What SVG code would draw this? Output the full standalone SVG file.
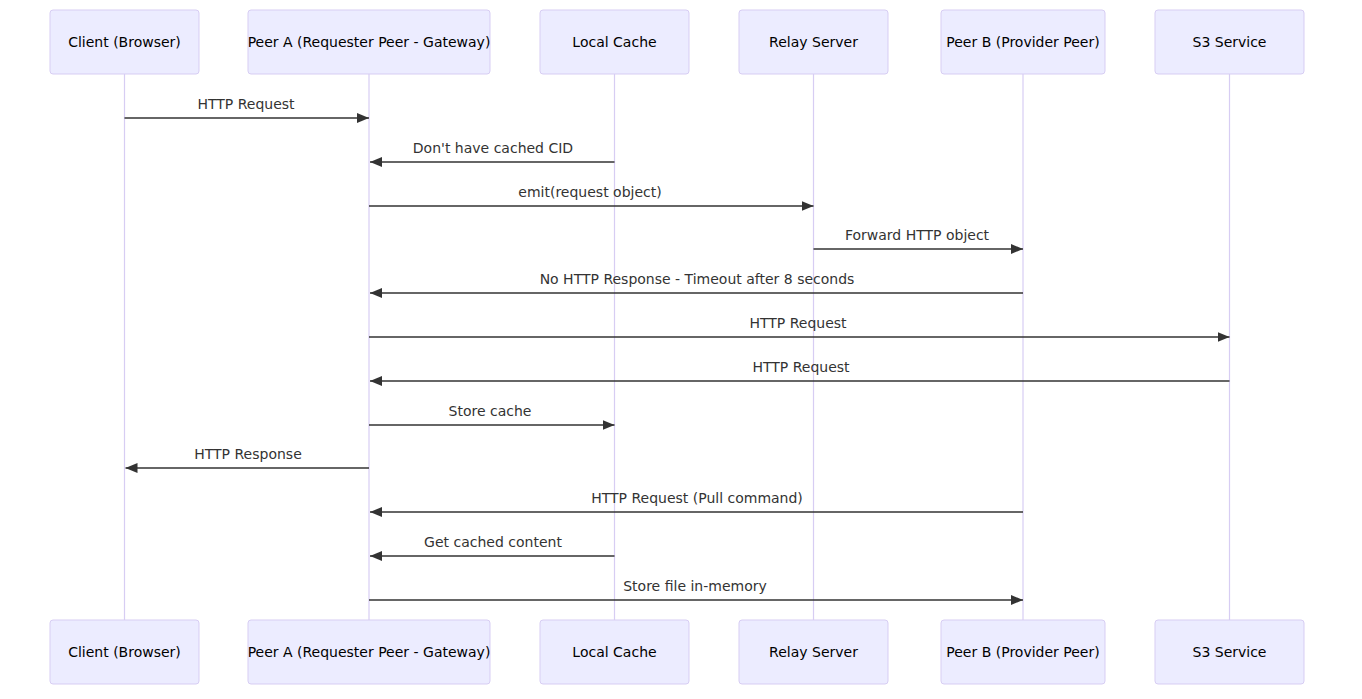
<svg xmlns="http://www.w3.org/2000/svg" width="1362" height="699" viewBox="0 0 1362 699">
<style>
.actor{fill:#ECECFF;stroke:#D7CDF3;stroke-width:1}
.life{stroke:#D7CDF3;stroke-width:1.2}
.atext{font-family:"DejaVu Sans",Verdana,sans-serif;font-size:14px;fill:#000;text-anchor:middle;dominant-baseline:central}
.msg{stroke:#333;stroke-width:1.5;fill:none}
.mtext{font-family:"DejaVu Sans",Verdana,sans-serif;font-size:14px;fill:#333;text-anchor:middle}
</style>
<defs>
<marker id="arrow" viewBox="0 0 12 10" refX="12" refY="5" markerWidth="12" markerHeight="10" markerUnits="userSpaceOnUse" orient="auto">
<path d="M0,0 L12,5 L0,10 z" fill="#333"/>
</marker>
</defs>
<rect width="1362" height="699" fill="#fff"/>
<g id="lifelines">
<line class="life" x1="124.5" y1="74" x2="124.5" y2="620"/>
<line class="life" x1="369" y1="74" x2="369" y2="620"/>
<line class="life" x1="614.5" y1="74" x2="614.5" y2="620"/>
<line class="life" x1="813.5" y1="74" x2="813.5" y2="620"/>
<line class="life" x1="1023" y1="74" x2="1023" y2="620"/>
<line class="life" x1="1229.5" y1="74" x2="1229.5" y2="620"/>
</g>
<g id="client">
<rect class="actor" x="50" y="10" width="149" height="64" rx="3"/>
<text class="atext" x="124.5" y="42">Client (Browser)</text>
<rect class="actor" x="50" y="620" width="149" height="64" rx="3"/>
<text class="atext" x="124.5" y="652">Client (Browser)</text>
</g>
<g id="peerA">
<rect class="actor" x="248" y="10" width="242" height="64" rx="3"/>
<text class="atext" x="369" y="42">Peer A (Requester Peer - Gateway)</text>
<rect class="actor" x="248" y="620" width="242" height="64" rx="3"/>
<text class="atext" x="369" y="652">Peer A (Requester Peer - Gateway)</text>
</g>
<g id="localCache">
<rect class="actor" x="540" y="10" width="149" height="64" rx="3"/>
<text class="atext" x="614.5" y="42">Local Cache</text>
<rect class="actor" x="540" y="620" width="149" height="64" rx="3"/>
<text class="atext" x="614.5" y="652">Local Cache</text>
</g>
<g id="relay">
<rect class="actor" x="739" y="10" width="149" height="64" rx="3"/>
<text class="atext" x="813.5" y="42">Relay Server</text>
<rect class="actor" x="739" y="620" width="149" height="64" rx="3"/>
<text class="atext" x="813.5" y="652">Relay Server</text>
</g>
<g id="peerB">
<rect class="actor" x="941" y="10" width="164" height="64" rx="3"/>
<text class="atext" x="1023" y="42">Peer B (Provider Peer)</text>
<rect class="actor" x="941" y="620" width="164" height="64" rx="3"/>
<text class="atext" x="1023" y="652">Peer B (Provider Peer)</text>
</g>
<g id="s3">
<rect class="actor" x="1155" y="10" width="149" height="64" rx="3"/>
<text class="atext" x="1229.5" y="42">S3 Service</text>
<rect class="actor" x="1155" y="620" width="149" height="64" rx="3"/>
<text class="atext" x="1229.5" y="652">S3 Service</text>
</g>
<g id="connectors">
<line class="msg" x1="124.5" y1="118" x2="369" y2="118" marker-end="url(#arrow)"/>
<text class="mtext" x="246" y="109">HTTP Request</text>
<line class="msg" x1="614.5" y1="162" x2="370" y2="162" marker-end="url(#arrow)"/>
<text class="mtext" x="493" y="153">Don't have cached CID</text>
<line class="msg" x1="369" y1="206" x2="813.5" y2="206" marker-end="url(#arrow)"/>
<text class="mtext" x="590" y="197">emit(request object)</text>
<line class="msg" x1="813.5" y1="249" x2="1023" y2="249" marker-end="url(#arrow)"/>
<text class="mtext" x="917" y="240">Forward HTTP object</text>
<line class="msg" x1="1023" y1="293" x2="370" y2="293" marker-end="url(#arrow)"/>
<text class="mtext" x="697" y="284">No HTTP Response - Timeout after 8 seconds</text>
<line class="msg" x1="369" y1="337" x2="1229.5" y2="337" marker-end="url(#arrow)"/>
<text class="mtext" x="798" y="328">HTTP Request</text>
<line class="msg" x1="1229.5" y1="381" x2="370" y2="381" marker-end="url(#arrow)"/>
<text class="mtext" x="801" y="372">HTTP Request</text>
<line class="msg" x1="369" y1="425" x2="614.5" y2="425" marker-end="url(#arrow)"/>
<text class="mtext" x="490" y="416">Store cache</text>
<line class="msg" x1="369" y1="468" x2="125.5" y2="468" marker-end="url(#arrow)"/>
<text class="mtext" x="248" y="459">HTTP Response</text>
<line class="msg" x1="1023" y1="512" x2="370" y2="512" marker-end="url(#arrow)"/>
<text class="mtext" x="697" y="503">HTTP Request (Pull command)</text>
<line class="msg" x1="614.5" y1="556" x2="370" y2="556" marker-end="url(#arrow)"/>
<text class="mtext" x="493" y="547">Get cached content</text>
<line class="msg" x1="369" y1="600" x2="1023" y2="600" marker-end="url(#arrow)"/>
<text class="mtext" x="695" y="591">Store file in-memory</text>
</g>
</svg>
